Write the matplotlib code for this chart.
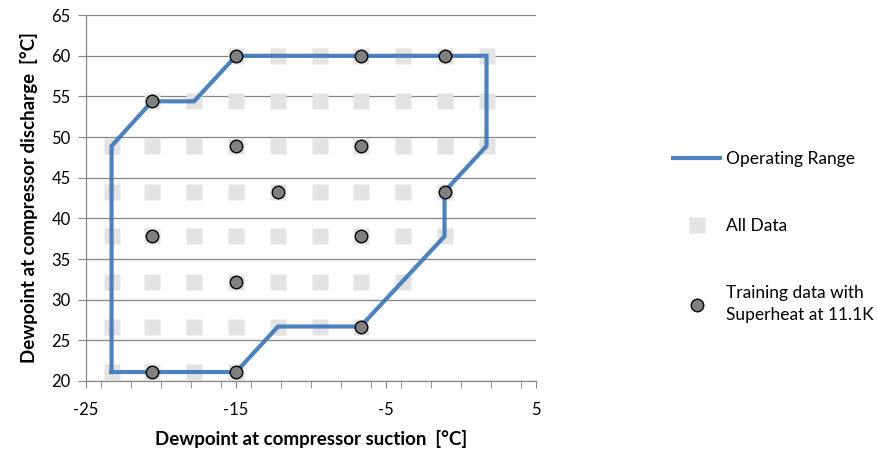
import matplotlib
matplotlib.use('Agg')
import matplotlib.pyplot as plt
from matplotlib.ticker import MultipleLocator

# operating range envelope (suction, discharge) in degC
range_x = [-23.3, -15.0, -12.2, -6.7, -1.1, -1.1, 1.7, 1.7, -15.0, -17.8, -20.6, -23.3, -23.3]
range_y = [21.1, 21.1, 26.7, 26.7, 37.8, 43.3, 48.9, 60.0, 60.0, 54.4, 54.4, 48.9, 21.1]

# all data grid: suction columns and the discharge rows they appear in
suction_levels = [-23.3, -20.6, -17.8, -15.0, -12.2, -9.4, -6.7, -3.9, -1.1, 1.7]
discharge_levels = [21.1, 26.7, 32.2, 37.8, 43.3, 48.9, 54.4, 60.0]
# first / last column index present in each discharge row
row_first = [0, 0, 0, 0, 0, 0, 1, 3]
row_last = [3, 6, 7, 8, 8, 9, 9, 9]

# training data with superheat at 11.1K
train_x = [-20.6, -15.0, -6.7, -15.0, -20.6, -6.7, -12.2, -1.1, -15.0, -6.7, -20.6, -15.0, -6.7, -1.1]
train_y = [21.1, 21.1, 26.7, 32.2, 37.8, 37.8, 43.3, 43.3, 48.9, 48.9, 54.4, 60.0, 60.0, 60.0]

all_x, all_y = [], []
for y, a, b in zip(discharge_levels, row_first, row_last):
	for x in suction_levels[a:b + 1]:
		all_x.append(x)
		all_y.append(y)

plt.rcParams['font.family'] = ['Lato', 'DejaVu Sans']
plt.rcParams['font.size'] = 12
plt.rcParams['axes.unicode_minus'] = False

fig = plt.figure(figsize=(8.78, 4.59), dpi=100)
ax = fig.add_axes([0.098, 0.17, 0.5125, 0.797])

gray = '#868686'
ax.set_xlim(-25, 5)
ax.set_ylim(20, 65)
ax.yaxis.set_major_locator(MultipleLocator(5))
ax.set_xticks([-25, -15, -5, 5])
ax.xaxis.set_minor_locator(MultipleLocator(2))
ax.grid(axis='y', color=gray, lw=0.9)
ax.set_axisbelow(True)
for s in ['top', 'right']:
	ax.spines[s].set_visible(False)
for s in ['left', 'bottom']:
	ax.spines[s].set_color(gray)
	ax.spines[s].set_linewidth(0.9)
ax.tick_params(axis='y', which='major', direction='out', length=6, color=gray, pad=5, labelsize=12)
ax.tick_params(axis='x', which='both', direction='out', length=5, color=gray, pad=10, labelsize=12)

ax.plot(all_x, all_y, 's', ms=11.5, color='#e3e3e3', mec='none', label='All Data', zorder=2)
ax.plot(range_x, range_y, '-', color='#3a75ba', lw=3, alpha=0.9,
		solid_joinstyle='miter', label='Operating Range', zorder=3)
ax.plot(train_x, train_y, 'o', ms=9, color='#808080', mec='black', mew=1,
		label='Training data with\nSuperheat at 11.1K', zorder=4)

ax.set_xlabel('Dewpoint at compressor suction  [°C]', fontweight='bold', fontsize=13.5, labelpad=9)
ax.set_ylabel('Dewpoint at compressor discharge  [°C]', fontweight='bold', fontsize=13.5, labelpad=10)

h, l = ax.get_legend_handles_labels()
order = [1, 0, 2]
leg = fig.legend([h[i] for i in order], [l[i] for i in order], loc='upper left',
				 bbox_to_anchor=(0.757, 0.69), frameon=False, handlelength=2.7,
				 handletextpad=0.35, labelspacing=2.95, borderpad=0, fontsize=12.5)
leg.get_texts()[2].set_linespacing(1.45)

fig.savefig('out.png', dpi=100)
